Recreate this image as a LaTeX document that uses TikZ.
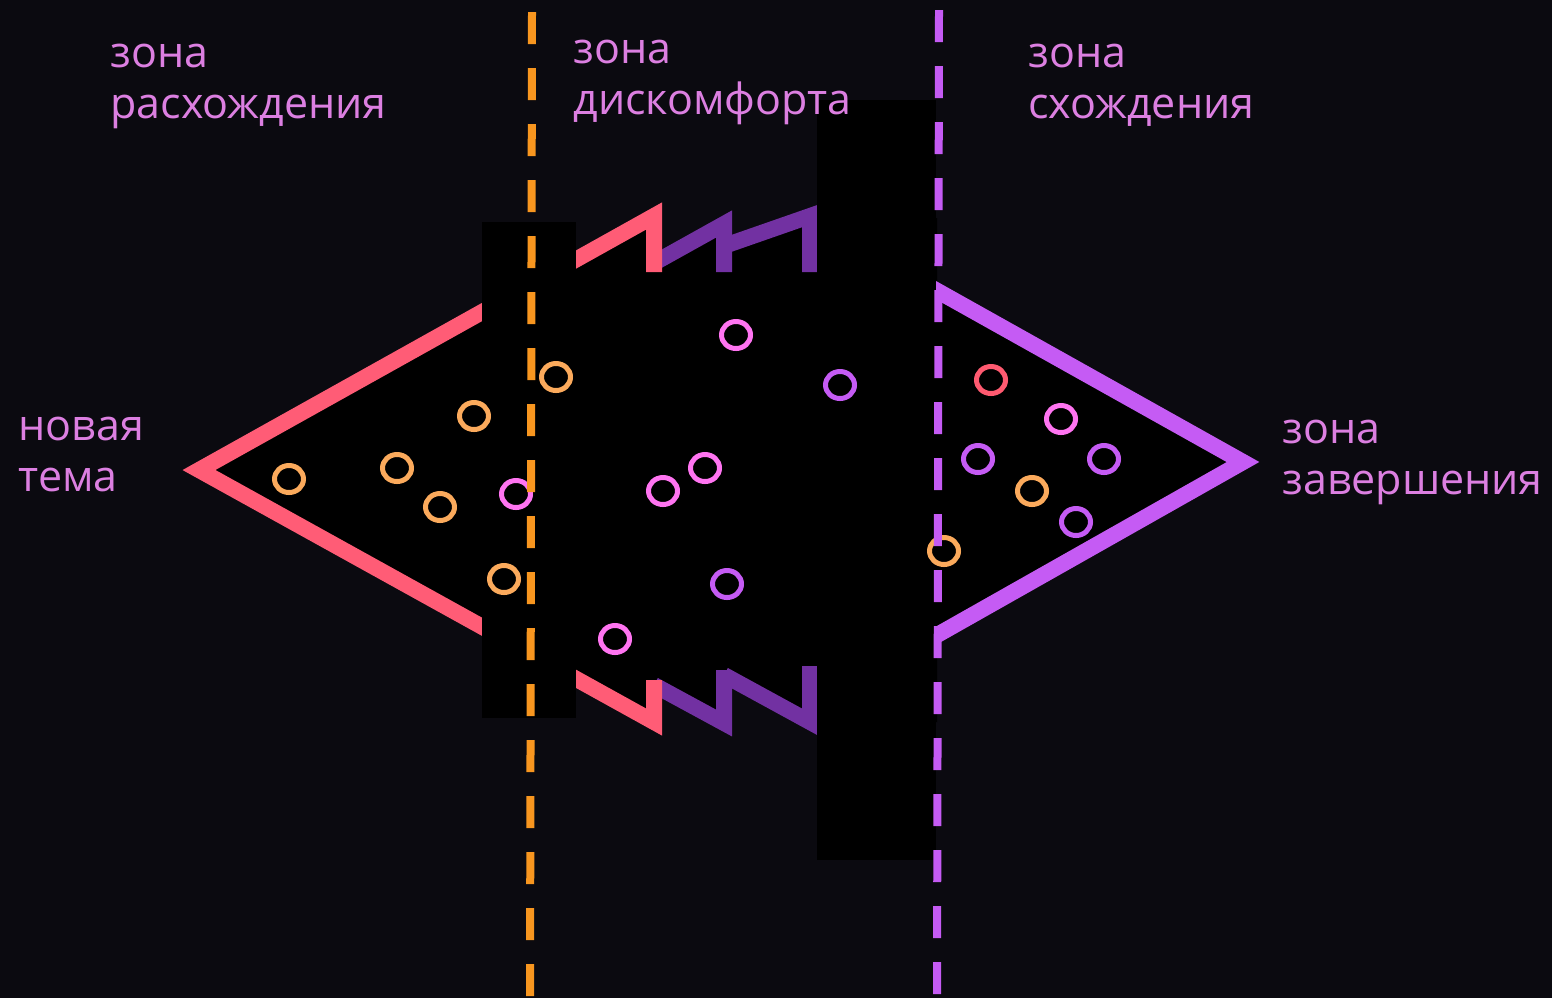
\documentclass[tikz,border=0pt]{standalone}
\usepackage{fontspec}
\setmainfont{Open Sans}
\definecolor{zBack}{HTML}{0B0A10}
\definecolor{zCoral}{HTML}{FF5C76}
\definecolor{zViolet}{HTML}{7231A2}
\definecolor{zLilac}{HTML}{C55BF4}
\definecolor{zOrange}{HTML}{F8961F}
\definecolor{zPeach}{HTML}{FBAA5C}
\definecolor{zPink}{HTML}{FF74F1}
\definecolor{zRed}{HTML}{FF5A70}
\definecolor{zText}{HTML}{DC7FE1}
\usepackage{tikz}

\begin{document}
\begin{tikzpicture}[x=0.5pt, y=-0.5pt,
  every node/.style={font=\fontsize{21.5pt}{25.5pt}\selectfont, text=zText,
              align=left, inner sep=0pt, anchor=base west},
  edge/.style={line width=8pt},
  cover/.style={fill=black},
  dot/.style={line width=2.5pt},
  zoneline/.style={line width=4pt, dash pattern=on 16pt off 12pt}
]
  \fill[zBack] (0,0) rectangle (1552,998);
  \useasboundingbox (0,0) rectangle (1552,998);

  \fill[cover] (199,470) -- (654,216) -- (654,263) -- (724,224) -- (724,246)
    -- (810,218) -- (937,218) -- (937,291) -- (1243,462) -- (937,635)
    -- (937,722) -- (810,722) -- (724,675) -- (724,723) -- (654,685)
    -- (654,722) -- cycle;

  \draw[edge, zViolet] (654,263) -- (724,224) -- (724,272);
  \draw[edge, zViolet] (724,246) -- (810,216) -- (810,272);
  \draw[edge, zViolet] (654,685) -- (724,723) -- (724,670);
  \draw[edge, zViolet] (724,675) -- (810,722) -- (810,666);
  \draw[edge, zCoral] (654,272) -- (654,216) -- (199,470) -- (654,722) -- (654,680);
  \draw[edge, zLilac] (900,270) -- (1243,462) -- (900,656);

  \fill[cover] (482,222) rectangle (576,718);
  \fill[cover] (817,100) rectangle (936,860);

  \foreach \x/\y in {289/479, 397/468, 440/507, 474/416, 504/579, 556/377, 1032/491, 944/551}
    \draw[dot, zPeach] (\x,\y) circle [x radius=14.5, y radius=13.5];
  \foreach \x/\y in {516/494, 736/335, 705/468, 663/491, 615/639, 1061/419}
    \draw[dot, zPink] (\x,\y) circle [x radius=14.5, y radius=13.5];
  \foreach \x/\y in {840/385, 727/584, 978/459, 1104/459, 1076/522}
    \draw[dot, zLilac] (\x,\y) circle [x radius=14.5, y radius=13.5];
  \draw[dot, zRed] (991,380) circle [x radius=14.5, y radius=13.5];

  \draw[zoneline, zOrange] (532,12) -- (530,998);
  \draw[zoneline, zLilac] (939,10) -- (937,998);

  \node (diverge) at (110,118) {зона\\расхождения};
  \node (discomfort) at (573,114) {зона\\дискомфорта};
  \node (converge) at (1028,118) {зона\\схождения};
  \node (newtopic) at (18,491) {новая\\тема};
  \node (finish) at (1282,494) {зона\\завершения};
\end{tikzpicture}
\end{document}
